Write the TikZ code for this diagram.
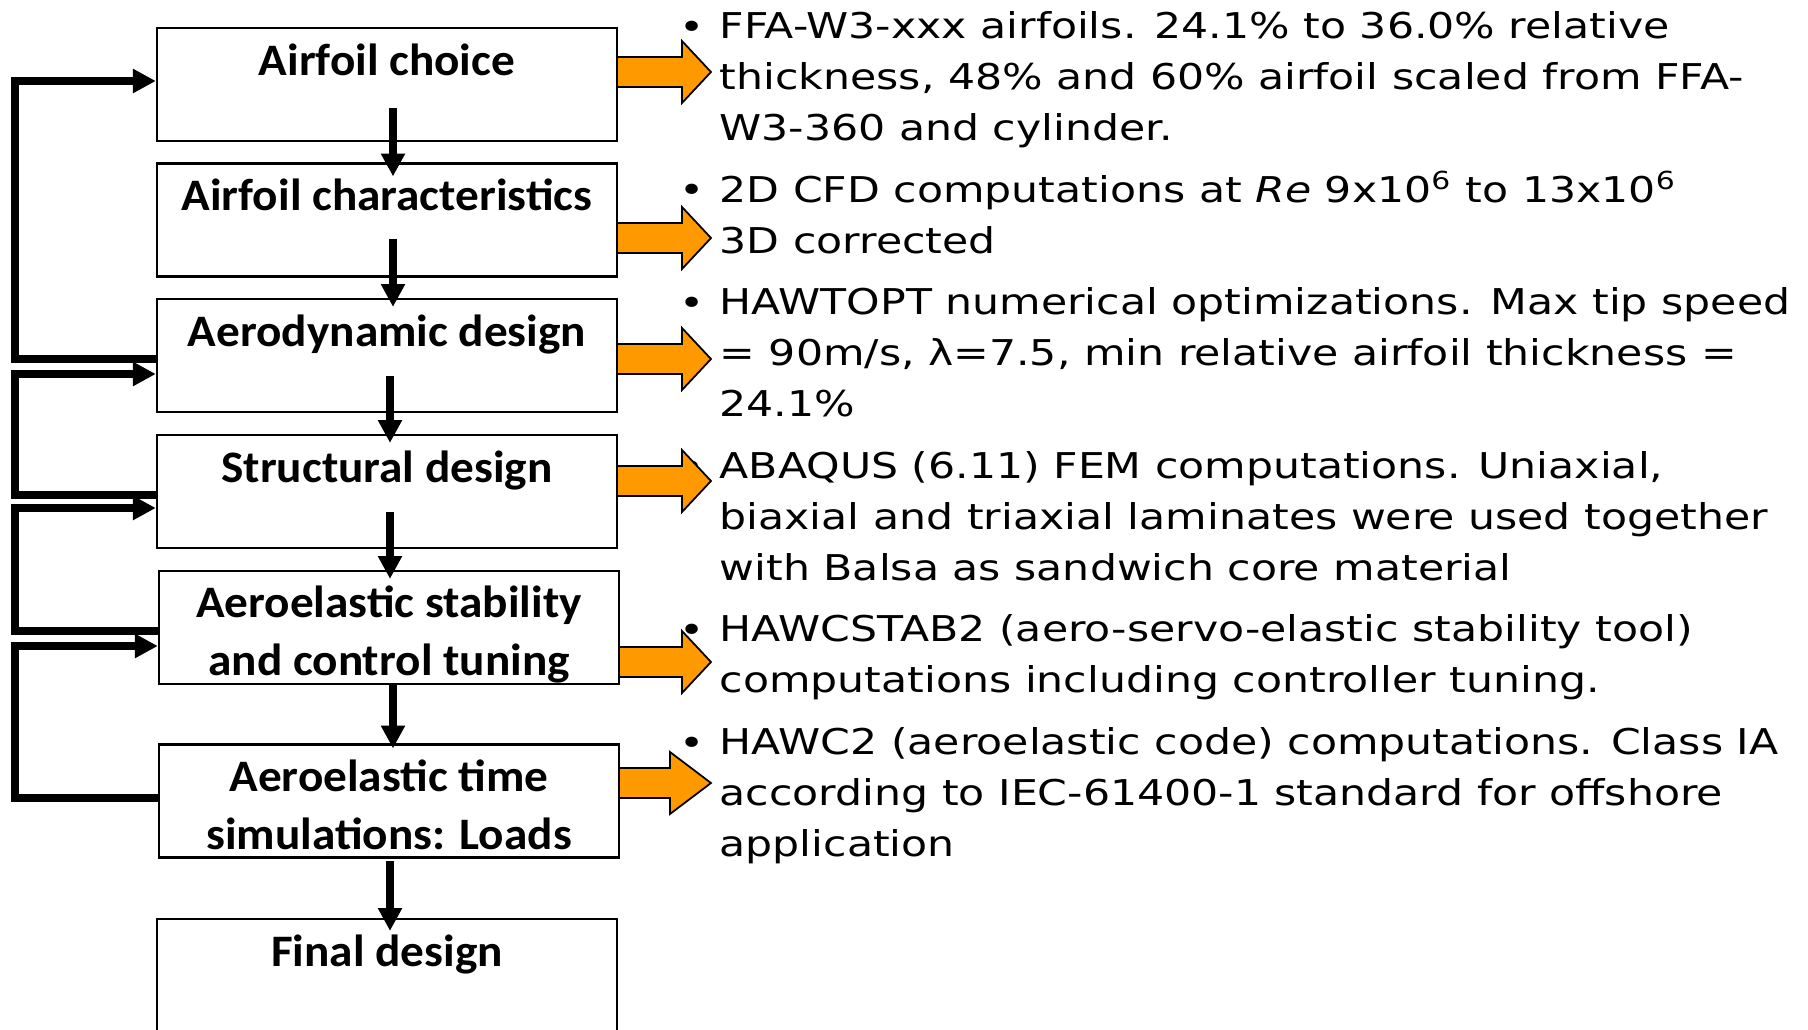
\documentclass[tikz,border=0pt]{standalone}
\usepackage{fontspec}
\usepackage{tikz}
\usetikzlibrary{arrows.meta,calc}
\newfontfamily\stagefont{Carlito}[FakeStretch=1.05]
\newfontfamily\notefont{DejaVu Sans}[FakeStretch=1.2]
\definecolor{arroworange}{RGB}{255,153,0}
\tikzset{
  stage/.style={draw,line width=0.6pt,minimum width=4.6cm,minimum height=1.13cm,
    inner sep=0pt,align=center,text height=13.3pt,text depth=18.7pt,
    font=\stagefont\bfseries\fontsize{12.8}{16.44}\selectfont},
  twoline/.style={text height=29.74pt,text depth=2.3pt},
  flow/.style={line width=2.3pt,-{Triangle[length=6.5pt,width=6.5pt]}},
  feedback/.style={line width=2pt,-{Triangle[length=6.5pt,width=6.5pt]}},
  outarrow/.style={fill=arroworange,draw=black,line width=0.5pt,line join=miter},
  note/.style={anchor=base west,inner sep=0pt,align=left,
    font=\notefont\fontsize{10.1}{14.37}\selectfont},
  dot/.style={anchor=base,inner sep=0pt,font=\notefont\fontsize{10.1}{14.37}\selectfont}
}
\begin{document}
\begin{tikzpicture}[x=0.01cm,y=-0.01cm]
%\draw[help lines,step=100] (0,0) grid (1808,1030);
\useasboundingbox (0,0) rectangle (1808,1030);

% design loop
\node[stage] (choice) at (387,84.5) {Airfoil choice};
\node[stage] (charac) at (387,220) {Airfoil characteristics};
\node[stage] (aero) at (387,355.5) {Aerodynamic design};
\node[stage] (struct) at (387,491.5) {Structural design};
\node[stage,twoline] (stab) at (389,627.5) {Aeroelastic stability\\and control tuning};
\node[stage,twoline] (loads) at (389,801) {Aeroelastic time\\simulations: Loads};
\node[stage] (final) at (387,975.5) {Final design};

\draw[flow] ($(choice.south)+(6,-34)$) -- ($(charac.north)+(6,14)$);
\draw[flow] ($(charac.south)+(6,-39)$) -- ($(aero.north)+(6,9)$);
\draw[flow] ($(aero.south)+(3,-37)$) -- ($(struct.north)+(3,9)$);
\draw[flow] ($(struct.south)+(3,-37)$) -- ($(stab.north)+(1,9)$);
\draw[flow] ($(stab.south)+(4,-1)$) -- ($(loads.north)+(4,5)$);
\draw[flow] ($(loads.south)+(1,2)$) -- ($(final.north)+(3,13)$);

% iterations back up
\coordinate (rail) at (15,0);
\draw[feedback] ($(aero.west)+(0,3.5)$) coordinate (back1) -- (back1 -| rail) |- ($(choice.west)+(0,-3.5)$);
\draw[feedback] ($(struct.west)+(0,3.5)$) coordinate (back2) -- (back2 -| rail) |- ($(aero.west)+(0,18.5)$);
\draw[feedback] ($(stab.west)+(0,3.5)$) coordinate (back3) -- (back3 -| rail) |- ($(struct.west)+(0,16.5)$);
\draw[feedback] ($(loads.west)+(0,-3)$) coordinate (back4) -- (back4 -| rail) |- ($(stab.west)+(0,18.5)$);

% tools used at each step (notes sit on the baseline of their last line)
\node[dot] (bchoice) at (692,39) {•};
\node[dot] (bcharac) at (692,202) {•};
\node[dot] (baero) at (692,315) {•};
\node[dot] (bstruct) at (692,479) {•};
\node[dot] (bstab) at (692,642) {•};
\node[dot] (bloads) at (692,755) {•};

\node[note] (nchoice) at (719,140) {FFA-W3-xxx airfoils. 24.1\% to 36.0\% relative\\thickness, 48\% and 60\% airfoil scaled from FFA-\\W3-360 and cylinder.};
\node[note] (ncharac) at (719,253) {2D CFD computations at \textit{Re} 9x10\textsuperscript{6} to 13x10\textsuperscript{6}\\3D corrected};
\node[note] (naero) at (719,416) {HAWTOPT numerical optimizations. Max tip speed\\= 90m/s, λ=7.5, min relative airfoil thickness =\\24.1\%};
\node[note] (nstruct) at (719,580) {ABAQUS (6.11) FEM computations. Uniaxial,\\biaxial and triaxial laminates were used together\\with Balsa as sandwich core material};
\node[note] (nstab) at (719,692) {HAWCSTAB2 (aero-servo-elastic stability tool)\\computations including controller tuning.};
\node[note] (nloads) at (719,856) {HAWC2 (aeroelastic code) computations. Class IA\\according to IEC-61400-1 standard for offshore\\application};

\draw[outarrow] (617,57) -- (682,57) -- (682,41) -- (711,72) -- (682,103) -- (682,87) -- (617,87) -- cycle;
\draw[outarrow] (617,223) -- (682,223) -- (682,207) -- (711,238) -- (682,269) -- (682,253) -- (617,253) -- cycle;
\draw[outarrow] (617,344) -- (682,344) -- (682,328) -- (711,359) -- (682,390) -- (682,374) -- (617,374) -- cycle;
\draw[outarrow] (617,466) -- (682,466) -- (682,450) -- (711,481) -- (682,512) -- (682,496) -- (617,496) -- cycle;
\draw[outarrow] (619,647) -- (682,647) -- (682,631) -- (711,662) -- (682,693) -- (682,677) -- (619,677) -- cycle;
\draw[outarrow] (619,768) -- (670,768) -- (670,752) -- (711,783) -- (670,814) -- (670,798) -- (619,798) -- cycle;
\end{tikzpicture}
\end{document}
